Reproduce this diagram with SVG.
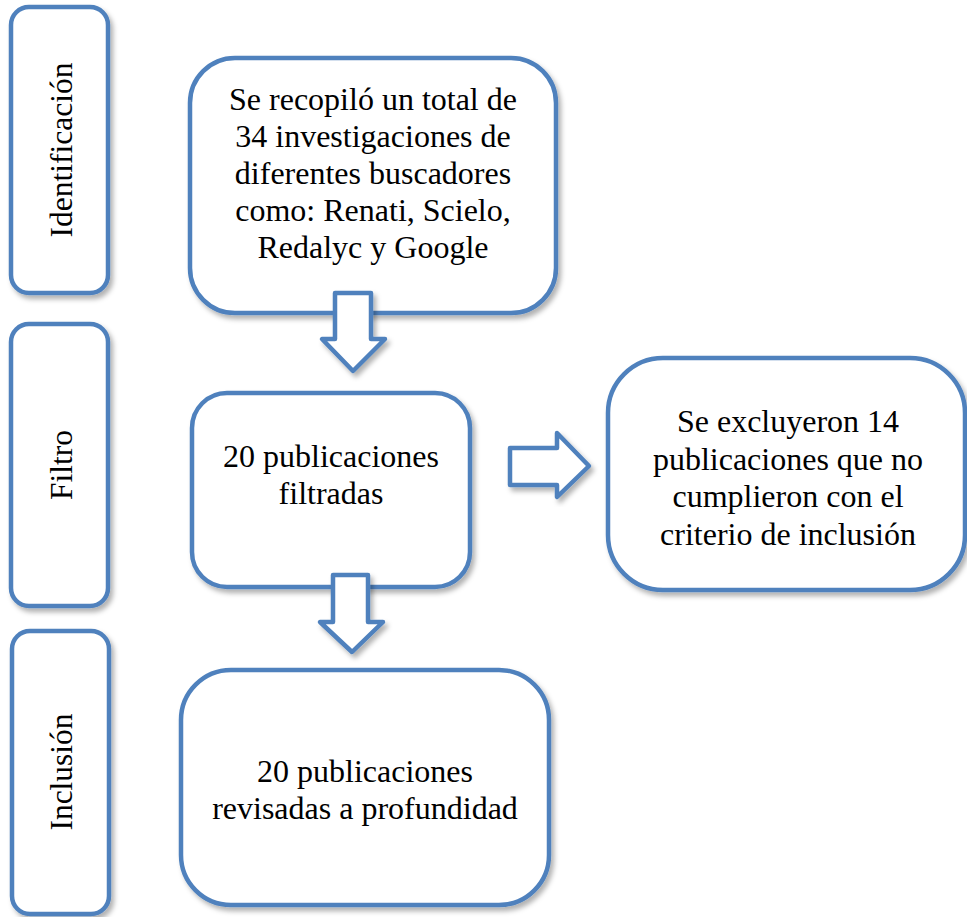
<svg xmlns="http://www.w3.org/2000/svg" width="967" height="917" viewBox="0 0 967 917">
<style>
.box{fill:#fff;stroke:#4f81bd;stroke-width:4.5;filter:url(#sh)}
.arr{fill:#fff;stroke:#4f81bd;stroke-width:4.5;stroke-linejoin:round;filter:url(#sh)}
.t{font-family:'Liberation Serif','Times New Roman',serif;font-size:32px;fill:#000;text-anchor:middle}
.s{font-size:31.5px}
</style>
<defs>
<filter id="sh" x="-10%" y="-10%" width="125%" height="125%">
<feDropShadow dx="3" dy="4" stdDeviation="2.5" flood-color="#000" flood-opacity="0.3"/>
</filter>
</defs>
<rect width="967" height="917" fill="#fff"/>
<g id="lbl-identificacion">
<rect class="box" x="11" y="7" width="97" height="286" rx="18"/>
<text class="t s" transform="translate(72,150) rotate(-90)">Identificación</text>
</g>
<g id="lbl-filtro">
<rect class="box" x="11" y="324" width="97" height="282" rx="18"/>
<text class="t s" transform="translate(72,465) rotate(-90)">Filtro</text>
</g>
<g id="lbl-inclusion">
<rect class="box" x="12" y="631" width="97" height="283" rx="18"/>
<text class="t s" transform="translate(72,772) rotate(-90)">Inclusión</text>
</g>
<g id="n-identificacion">
<rect class="box" x="190" y="58" width="366" height="255" rx="45"/>
<text class="t" x="373" y="110">Se recopiló un total de</text>
<text class="t" x="373" y="147">34 investigaciones de</text>
<text class="t" x="373" y="184">diferentes buscadores</text>
<text class="t" x="373" y="221">como: Renati, Scielo,</text>
<text class="t" x="373" y="258">Redalyc y Google</text>
</g>
<g id="n-filtro">
<rect class="box" x="192" y="393" width="278" height="194" rx="35"/>
<text class="t" x="331" y="467">20 publicaciones</text>
<text class="t" x="331" y="504">filtradas</text>
</g>
<g id="n-excluidas">
<rect class="box" x="608" y="358" width="357" height="232" rx="55"/>
<text class="t" x="788" y="432">Se excluyeron 14</text>
<text class="t" x="788" y="470">publicaciones que no</text>
<text class="t" x="788" y="507">cumplieron con el</text>
<text class="t" x="788" y="545">criterio de inclusión</text>
</g>
<g id="n-inclusion">
<rect class="box" x="181" y="670" width="368" height="235" rx="50"/>
<text class="t" x="365" y="782">20 publicaciones</text>
<text class="t" x="365" y="819">revisadas a profundidad</text>
</g>
<g id="connectors">
<path class="arr" d="M335,293 H371 V339 H385 L353,371 L322,339 H335 Z"/>
<path class="arr" d="M333,575 H368 V622 H383 L352,652 L320,622 H333 Z"/>
<path class="arr" d="M510,448 H557 V433 L589,466 L557,497 V485 H510 Z"/>
</g>
</svg>
